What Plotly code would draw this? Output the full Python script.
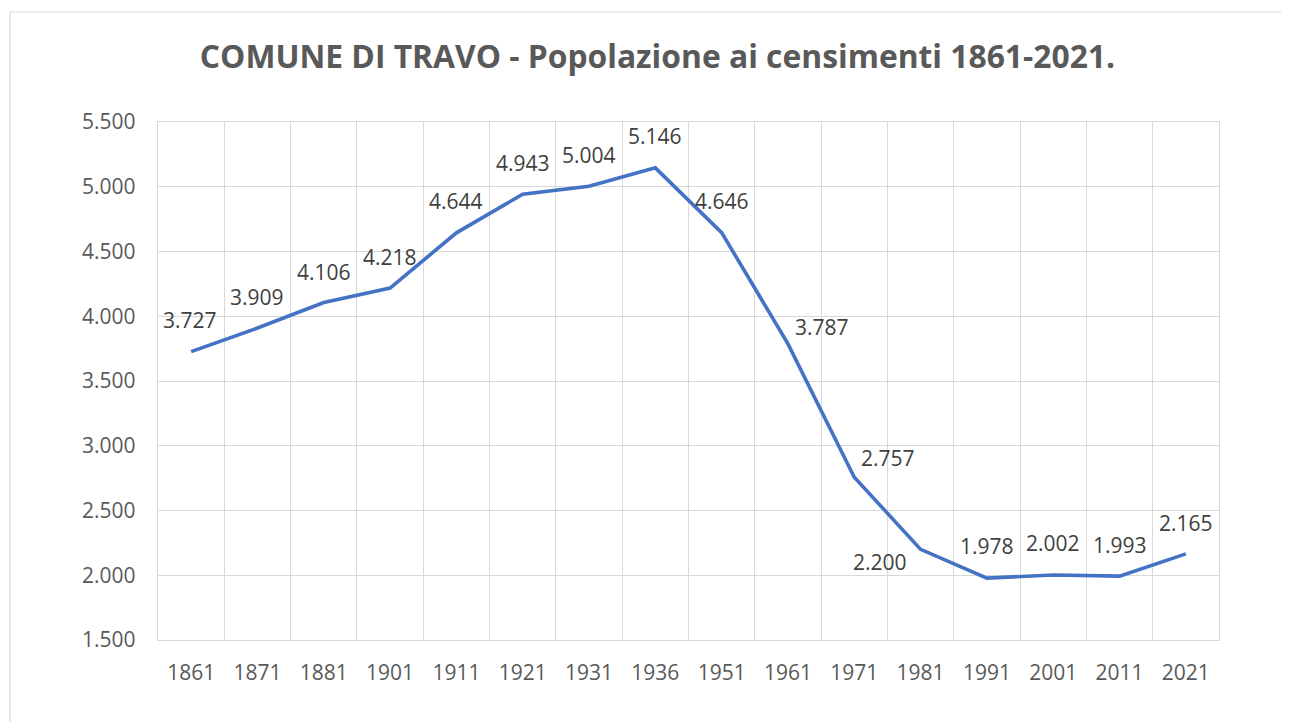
import plotly.graph_objects as go

years = ["1861", "1871", "1881", "1901", "1911", "1921", "1931", "1936",
         "1951", "1961", "1971", "1981", "1991", "2001", "2011", "2021"]
population = [3727, 3909, 4106, 4218, 4644, 4943, 5004, 5146,
              4646, 3787, 2757, 2200, 1978, 2002, 1993, 2165]
# label offsets in pixels (x, y) relative to each point
label_dx = [-1, 0, 0, 0, 0, 0, 0, 0, 0, 34, 34, -41, 0, 0, 0, 0]
label_dy = [32, 31, 31, 31, 32, 31, 31, 32, 32, 17, 19, -13, 32, 32, 31, 31]

title_text = "COMUNE DI TRAVO - Popolazione ai censimenti 1861-2021."
FONT = "Open Sans"

fig = go.Figure()
fig.add_trace(go.Scatter(
    x=years, y=population, mode="lines",
    line=dict(color="#4472C4", width=3.6),
    hoverinfo="x+y", showlegend=False,
))

annotations = []
for i, (v, dx, dy) in enumerate(zip(population, label_dx, label_dy)):
    annotations.append(dict(
        x=i, y=v, xref="x", yref="y",
        text=f"{v:,}".replace(",", "."),
        showarrow=False, xshift=dx, yshift=dy,
        font=dict(family=FONT, size=21, color="#404040"),
        xanchor="center", yanchor="middle",
    ))

fig.update_layout(
    width=1281, height=714,
    margin=dict(l=150, r=70, t=114, b=82),
    paper_bgcolor="white", plot_bgcolor="white",
    separators=",.",
    title=dict(text=title_text, x=0.507, xanchor="center", y=0.931, yanchor="middle",
               font=dict(family=FONT, size=31.8, color="#595959", weight="bold")),
    annotations=annotations,
    shapes=[dict(type="rect", xref="paper", yref="paper",
                 x0=(2 - 150) / 1061, x1=1.5, y0=-0.6, y1=(632 - 4) / 518,
                 line=dict(color="#D9D9D9", width=1.2), fillcolor="rgba(0,0,0,0)",
                 layer="below")],
)

fig.update_xaxes(
    type="category", tickson="boundaries",
    showgrid=True, gridcolor="#D9D9D9", gridwidth=1.4,
    showline=True, linecolor="#D9D9D9", linewidth=1.4, mirror=True,
    ticks="", ticklabelstandoff=14,
    tickfont=dict(family=FONT, size=21, color="#595959"),
    range=[-0.5, 15.5], fixedrange=True,
)
fig.update_yaxes(
    range=[1500, 5500], dtick=500, tick0=1500, tickformat=",.0f",
    showgrid=True, gridcolor="#D9D9D9", gridwidth=1.4,
    showline=True, linecolor="#D9D9D9", linewidth=1.4, mirror=True,
    zeroline=False, ticks="", ticklabelstandoff=17,
    tickfont=dict(family=FONT, size=21, color="#595959"),
    fixedrange=True,
)

fig.write_html("out.html")
